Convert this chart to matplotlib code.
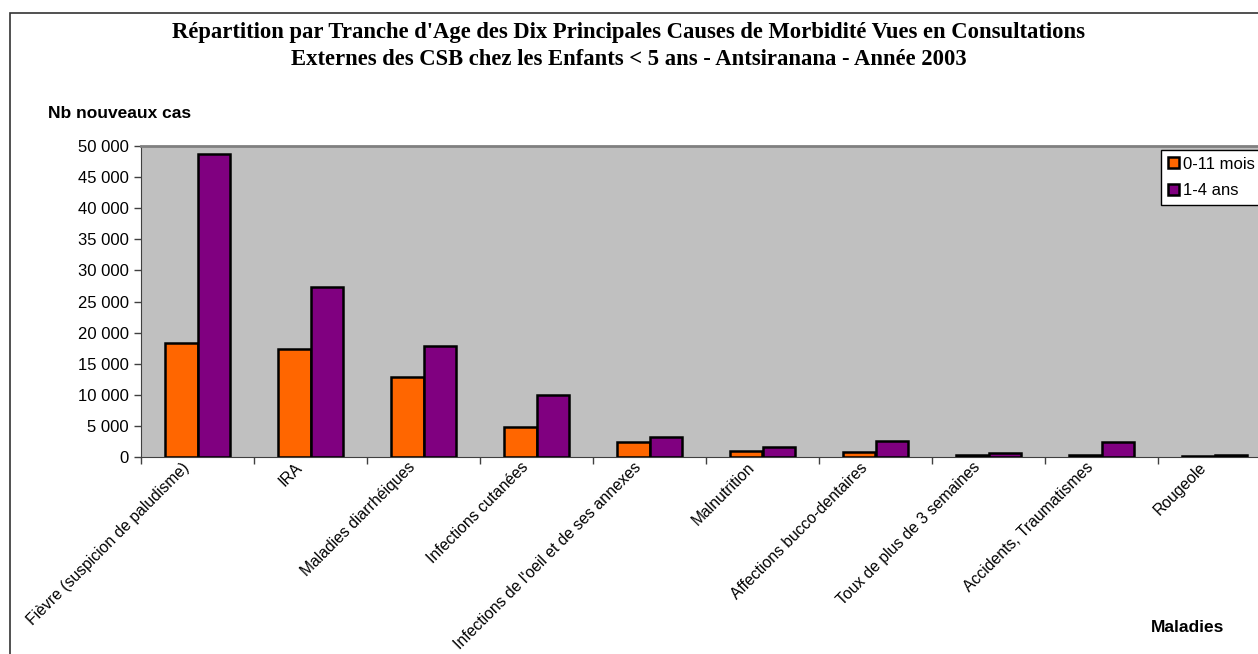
# Répartition par tranche d'âge - morbidité CSB Antsiranana 2003
import matplotlib.pyplot as plt
import matplotlib.transforms as mtransforms
import numpy as np
from matplotlib.patches import Rectangle
from matplotlib.ticker import FuncFormatter

# ─────────────────────────── data ────────────────────────────
maladies = ['Fièvre (suspicion de paludisme)', 'IRA', 'Maladies diarrhéiques',
            'Infections cutanées', "Infections de l'oeil et de ses annexes",
            'Malnutrition', 'Affections bucco-dentaires',
            'Toux de plus de 3 semaines', 'Accidents, Traumatismes', 'Rougeole']
mois_0_11 = [18300, 17300, 12800, 4750, 2350, 970, 800, 300, 250, 100]
ans_1_4   = [48700, 27300, 17850, 9900, 3200, 1600, 2500, 650, 2350, 250]
series    = ['0-11 mois', '1-4 ans']
y_ticks   = list(range(0, 50001, 5000))

title = ("Répartition par Tranche d'Age des Dix Principales Causes de Morbidité Vues en Consultations\n"
         "Externes des CSB chez les Enfants < 5 ans - Antsiranana - Année 2003")

# ─────────────────────────── style ───────────────────────────
W, H = 1258, 654
colors = ['#FF6600', '#800080']
sans   = ['Liberation Sans', 'DejaVu Sans']
serif  = ['Liberation Serif', 'DejaVu Serif']
plt.rcParams['font.family'] = sans

fig = plt.figure(figsize=(W / 100, H / 100), dpi=100)
fig.patch.set_facecolor('white')

# outer chart frame (runs off right / bottom like the original)
fig.patches.append(Rectangle((10 / W, -0.05), 1.1, 1 - 13 / H + 0.05,
                             transform=fig.transFigure, fill=False,
                             edgecolor='#333333', lw=1.2, clip_on=False))

ax = fig.add_axes([141 / W, 1 - 457 / H, (1271 - 141) / W, (457 - 146) / H])
ax.set_facecolor('#C0C0C0')

x = np.arange(len(maladies))
bw = 1 / 3.5
for i, (vals, lab) in enumerate(zip([mois_0_11, ans_1_4], series)):
    ax.bar(x + (i - 0.5) * bw, vals, width=bw, color=colors[i],
           edgecolor='black', linewidth=1.8, label=lab, zorder=3)

ax.set_xlim(-0.5, len(maladies) - 0.5)
ax.set_ylim(0, 50000)
ax.set_yticks(y_ticks)
ax.yaxis.set_major_formatter(FuncFormatter(lambda v, p: f'{v:,.0f}'.replace(',', ' ')))
ax.tick_params(axis='y', labelsize=12, length=5, width=1, color='#404040', pad=4)

ax.set_xticks(np.arange(-0.5, len(maladies), 1.0))
ax.set_xticklabels([])
ax.tick_params(axis='x', which='major', length=5, width=1, color='#404040')
ax.set_xticks(x, minor=True)
ax.set_xticklabels(maladies, minor=True, rotation=45, ha='right', va='top',
                   rotation_mode='anchor', fontsize=11.3)
ax.tick_params(axis='x', which='minor', length=0, pad=2)
shift = mtransforms.ScaledTranslation(-16 / 100, 0, fig.dpi_scale_trans)
for lab in ax.get_xticklabels(minor=True):
    lab.set_transform(lab.get_transform() + shift)

for s in ['top', 'right']:
    ax.spines[s].set_color('#808080')
    ax.spines[s].set_linewidth(2)
ax.spines['left'].set_color('#404040')
ax.spines['bottom'].set_color('#404040')

leg = fig.legend(loc='upper left', bbox_to_anchor=(1161 / W, 1 - 150 / H),
                 frameon=True, fancybox=False, edgecolor='black', framealpha=1,
                 fontsize=12, handlelength=0.65, handleheight=0.65,
                 handletextpad=0.25, borderpad=0.4, labelspacing=0.7,
                 borderaxespad=0)
leg.get_frame().set_linewidth(1)

fig.text(0.5, 1 - 46 / H, title, ha='center', va='center', family=serif,
         fontweight='bold', fontsize=16.3, linespacing=1.4)
fig.text(48 / W, 1 - 114 / H, 'Nb nouveaux cas', ha='left', va='center',
         fontweight='bold', fontsize=12.5)
fig.text(1188 / W, 1 - 628 / H, 'Maladies', ha='center', va='center',
         fontweight='bold', fontsize=12.5)

fig.savefig('out.png', dpi=100)
